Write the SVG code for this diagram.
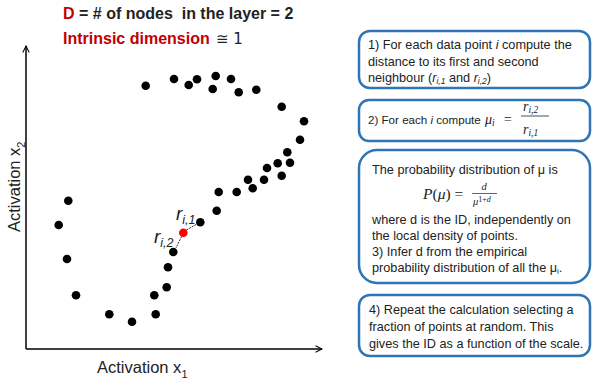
<svg xmlns="http://www.w3.org/2000/svg" width="593" height="382" viewBox="0 0 593 382">
<style>
.t{font-family:"Liberation Sans",Arial,sans-serif;font-size:12.7px;fill:#222}
.m{font-family:"Liberation Serif","DejaVu Serif",serif;font-style:italic;fill:#222}
.box{fill:#fff;stroke:#2e75b6;stroke-width:2.5}
.dot{fill:#000}
.ax{stroke:#000;stroke-width:1.5;fill:none}
.red{fill:#c00000}
</style>
<defs>
<marker id="ar" viewBox="0 0 10 10" refX="9" refY="5" markerWidth="8" markerHeight="8" orient="auto" markerUnits="userSpaceOnUse">
<path d="M1,1 L9,5 L1,9" fill="none" stroke="#000" stroke-width="1.3"/>
</marker>
</defs>
<rect width="593" height="382" fill="#fff"/>

<g id="title">
<text x="63" y="19" font-family="Liberation Sans,Arial,sans-serif" font-weight="bold" font-size="16" fill="#222" xml:space="preserve"><tspan class="red">D</tspan> = # of nodes  in the layer = 2</text>
<text x="63" y="44" font-family="Liberation Sans,Arial,sans-serif" font-weight="bold" font-size="16" class="red">Intrinsic dimension</text>
<text x="216" y="44" font-family="DejaVu Sans,sans-serif" font-size="15" fill="#222">≅ 1</text>
</g>

<g id="axes">
<line class="ax" x1="26" y1="349" x2="26" y2="46" marker-end="url(#ar)"/>
<line class="ax" x1="26" y1="349" x2="322" y2="349" marker-end="url(#ar)"/>
<text x="97" y="373" font-family="Liberation Sans,Arial,sans-serif" font-size="16.5" fill="#222">Activation x<tspan font-size="11" dy="5">1</tspan></text>
<text transform="translate(20,232) rotate(-90)" font-family="Liberation Sans,Arial,sans-serif" font-size="16.5" fill="#222">Activation x<tspan font-size="11" dy="5">2</tspan></text>
</g>

<g id="points">
<circle class="dot" cx="145.7" cy="85.7" r="4.3"/>
<circle class="dot" cx="174" cy="79" r="4.3"/>
<circle class="dot" cx="188.7" cy="85" r="4.3"/>
<circle class="dot" cx="197" cy="79.3" r="4.3"/>
<circle class="dot" cx="215.7" cy="76" r="4.3"/>
<circle class="dot" cx="212.7" cy="89" r="4.3"/>
<circle class="dot" cx="231" cy="79" r="4.3"/>
<circle class="dot" cx="238.7" cy="92.3" r="4.3"/>
<circle class="dot" cx="256.3" cy="89.7" r="4.3"/>
<circle class="dot" cx="281.7" cy="106.7" r="4.3"/>
<circle class="dot" cx="304" cy="121.3" r="4.3"/>
<circle class="dot" cx="300" cy="139.7" r="4.3"/>
<circle class="dot" cx="287.3" cy="152.3" r="4.3"/>
<circle class="dot" cx="277.7" cy="163.3" r="4.3"/>
<circle class="dot" cx="290" cy="162.7" r="4.3"/>
<circle class="dot" cx="267" cy="168" r="4.3"/>
<circle class="dot" cx="281.7" cy="175.7" r="4.3"/>
<circle class="dot" cx="248" cy="179.7" r="4.3"/>
<circle class="dot" cx="264" cy="179.7" r="4.3"/>
<circle class="dot" cx="252.7" cy="188.3" r="4.3"/>
<circle class="dot" cx="218.7" cy="192" r="4.3"/>
<circle class="dot" cx="236.7" cy="192" r="4.3"/>
<circle class="dot" cx="216.7" cy="210.7" r="4.3"/>
<circle class="dot" cx="200.3" cy="222.3" r="4.3"/>
<circle class="dot" cx="173.3" cy="252" r="4.3"/>
<circle class="dot" cx="168" cy="267.3" r="4.3"/>
<circle class="dot" cx="166.7" cy="287.3" r="4.3"/>
<circle class="dot" cx="154.3" cy="295.3" r="4.3"/>
<circle class="dot" cx="155.7" cy="314.3" r="4.3"/>
<circle class="dot" cx="132" cy="321.7" r="4.3"/>
<circle class="dot" cx="109.3" cy="314.3" r="4.3"/>
<circle class="dot" cx="76" cy="295.3" r="4.3"/>
<circle class="dot" cx="67" cy="259" r="4.3"/>
<circle class="dot" cx="58.7" cy="225" r="4.3"/>
<circle class="dot" cx="68.3" cy="200.7" r="4.3"/>
<circle cx="183.3" cy="232.7" r="4.3" fill="#ff0000"/>
</g>

<g id="connectors">
<line x1="186.5" y1="230" x2="197" y2="224" stroke="#000" stroke-width="0.8" stroke-dasharray="2,1"/>
<line x1="181.5" y1="236.5" x2="176" y2="248" stroke="#000" stroke-width="0.8" stroke-dasharray="2,1"/>
</g>

<g id="labels" font-family="Liberation Sans,Arial,sans-serif" font-style="italic" fill="#222">
<text x="176" y="220" font-size="19">r<tspan font-size="12.5" dy="4">i,1</tspan></text>
<text x="154" y="243" font-size="19">r<tspan font-size="12.5" dy="4">i,2</tspan></text>
</g>

<g id="box1">
<rect class="box" x="359" y="31" width="231" height="57" rx="11"/>
<text class="t" x="368" y="49">1) For each data point <tspan font-style="italic">i</tspan> compute the</text>
<text class="t" x="368" y="65.5">distance to its first and second</text>
<text class="t" x="368" y="82">neighbour (<tspan font-style="italic">r</tspan><tspan font-style="italic" font-size="8.5" dy="2">i,1</tspan><tspan dy="-2"> and </tspan><tspan font-style="italic">r</tspan><tspan font-style="italic" font-size="8.5" dy="2">i,2</tspan><tspan dy="-2">)</tspan></text>
</g>

<g id="box2">
<rect class="box" x="359" y="100" width="231" height="41" rx="10"/>
<text class="t" x="368" y="124" font-size="11.6px" style="font-size:11.6px">2) For each <tspan font-style="italic">i</tspan> compute</text>
<text class="m" x="485" y="124" font-size="14">μ<tspan font-size="9.5" dy="2">i</tspan></text>
<text class="m" x="503" y="124" font-size="14" font-style="normal">=</text>
<text class="m" x="523" y="111" font-size="14">r<tspan font-size="9.5" dy="2">i,2</tspan></text>
<line x1="521" y1="116" x2="549" y2="116" stroke="#222" stroke-width="0.8"/>
<text class="m" x="523" y="134" font-size="14">r<tspan font-size="9.5" dy="2">i,1</tspan></text>
</g>

<g id="box3">
<rect class="box" x="359" y="150" width="231" height="133" rx="18"/>
<text class="t" x="372" y="174">The probability distribution of μ is</text>
<text class="m" x="423" y="199" font-size="15.5">P<tspan font-style="normal">(</tspan>μ<tspan font-style="normal">) =</tspan></text>
<text class="m" x="484" y="190" font-size="10.5" text-anchor="middle">d</text>
<line x1="472" y1="193.5" x2="497" y2="193.5" stroke="#222" stroke-width="0.7"/>
<text class="m" x="473" y="205" font-size="10.5">μ<tspan font-size="8" dy="-3" font-style="normal">1+</tspan><tspan font-size="8">d</tspan></text>
<text class="t" x="372" y="224">where d is the ID, independently on</text>
<text class="t" x="372" y="240">the local density of points.</text>
<text class="t" x="372" y="256">3) Infer d from the empirical</text>
<text class="t" x="372" y="272">probability distribution of all the μ<tspan font-size="8" dy="2">i</tspan><tspan dy="-2">.</tspan></text>
</g>

<g id="box4">
<rect class="box" x="359" y="295" width="231" height="61" rx="11"/>
<text class="t" x="369" y="314">4) Repeat the calculation selecting a</text>
<text class="t" x="369" y="331">fraction of points at random. This</text>
<text class="t" x="369" y="348">gives the ID as a function of the scale.</text>
</g>
</svg>
